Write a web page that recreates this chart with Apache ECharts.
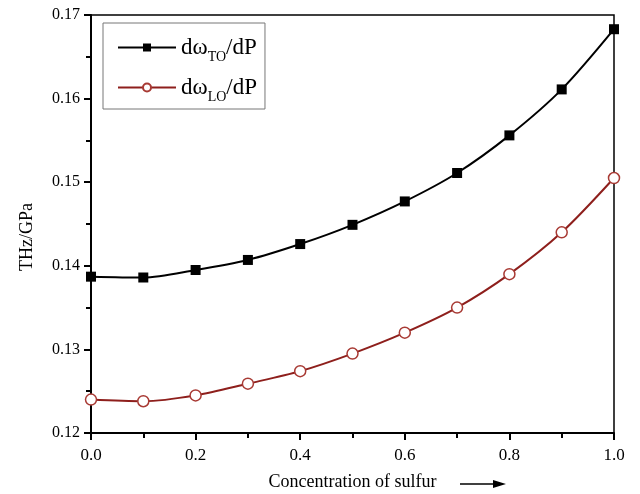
<!DOCTYPE html>
<html>
<head>
<meta charset="utf-8">
<script src="https://cdn.jsdelivr.net/npm/echarts@6/dist/echarts.min.js"></script>
<style>
  html, body { margin: 0; padding: 0; background: #fff; }
  #main { width: 640px; height: 494px; }
</style>
</head>
<body>
<div id="main"></div>
<script>
// concentration of sulfur
var conc = [0.0, 0.1, 0.2, 0.3, 0.4, 0.5, 0.6, 0.7, 0.8, 0.9, 1.0];
// pressure coefficients, THz/GPa
var dwTO = [0.1387, 0.1386, 0.1395, 0.1407, 0.1426, 0.1449, 0.1477, 0.1511, 0.1556, 0.1611, 0.1683];
var dwLO = [0.1240, 0.1238, 0.1245, 0.1259, 0.1274, 0.1295, 0.1320, 0.1350, 0.1390, 0.1440, 0.1505];

var serif = '"Liberation Serif", "DejaVu Serif", serif';

function pairs(xs, ys) {
    var out = [];
    for (var i = 0; i < xs.length; i++) {
        out.push([xs[i], ys[i]]);
    }
    return out;
}

var option = {
    backgroundColor: '#fff',
    animation: false,
    grid: {
        left: 91, right: 26, top: 15, bottom: 61,
        outerBoundsMode: 'none',
        show: true,
        borderColor: '#000',
        borderWidth: 1.5
    },
    legend: {
        left: 103, top: 23,
        orient: 'vertical',
        padding: [13, 8, 5, 14],
        itemGap: 12,
        itemWidth: 58,
        itemHeight: 10,
        borderColor: '#777',
        borderWidth: 1,
        textStyle: {
            fontFamily: serif, fontSize: 23, color: '#000',
            rich: {
                a: { fontFamily: serif, fontSize: 23, color: '#000', verticalAlign: 'bottom' },
                s: { fontFamily: serif, fontSize: 14, color: '#000', verticalAlign: 'bottom', padding: [0, 0, -5, 0] }
            }
        },
        formatter: function (name) {
            if (name === 'TO') return '{a|dω}{s|TO}{a|/dP}';
            return '{a|dω}{s|LO}{a|/dP}';
        },
        data: ['TO', 'LO']
    },
    xAxis: {
        type: 'value',
        min: 0, max: 1, interval: 0.2,
        name: 'Concentration of sulfur',
        nameLocation: 'middle',
        nameGap: 40,
        nameTextStyle: { fontFamily: serif, fontSize: 18, color: '#000' },
        axisLine: { lineStyle: { color: '#000', width: 2 } },
        axisTick: { inside: false, length: 7, lineStyle: { color: '#000', width: 2 } },
        minorTick: { show: true, splitNumber: 2, length: 5, lineStyle: { color: '#000', width: 2 } },
        axisLabel: {
            fontFamily: serif, fontSize: 17, color: '#000', margin: 14,
            formatter: function (v) { return v.toFixed(1); }
        },
        splitLine: { show: false }
    },
    yAxis: {
        type: 'value',
        min: 0.12, max: 0.17, interval: 0.01,
        name: 'THz/GPa',
        nameLocation: 'middle',
        nameGap: 55,
        nameTextStyle: { fontFamily: serif, fontSize: 18, color: '#000', padding: [0, 0, 0, -26] },
        axisLine: { lineStyle: { color: '#000', width: 2 } },
        axisTick: { inside: false, length: 7, lineStyle: { color: '#000', width: 2 } },
        minorTick: { show: true, splitNumber: 2, length: 5, lineStyle: { color: '#000', width: 2 } },
        axisLabel: {
            fontFamily: serif, fontSize: 16, color: '#000', margin: 11,
            formatter: function (v) { return v.toFixed(2); }
        },
        splitLine: { show: false }
    },
    series: [
        {
            name: 'TO',
            type: 'line',
            smooth: 0.3,
            data: pairs(conc, dwTO),
            symbol: 'rect',
            symbolSize: 10,
            itemStyle: { color: '#000' },
            lineStyle: { color: '#000', width: 2 }
        },
        {
            name: 'LO',
            type: 'line',
            smooth: 0.3,
            data: pairs(conc, dwLO),
            symbol: 'circle',
            symbolSize: 11,
            itemStyle: { color: '#fff', borderColor: '#a83a34', borderWidth: 1.5 },
            lineStyle: { color: '#8e1f1c', width: 2 }
        }
    ],
    graphic: [
        {
            type: 'line',
            shape: { x1: 460, y1: 484, x2: 496, y2: 484 },
            style: { stroke: '#000', lineWidth: 1.5 }
        },
        {
            type: 'polygon',
            shape: { points: [[493, 480], [506, 484], [493, 488]] },
            style: { fill: '#000' }
        }
    ]
};

var chart = echarts.init(document.getElementById('main'));
chart.setOption(option);
</script>
</body>
</html>
